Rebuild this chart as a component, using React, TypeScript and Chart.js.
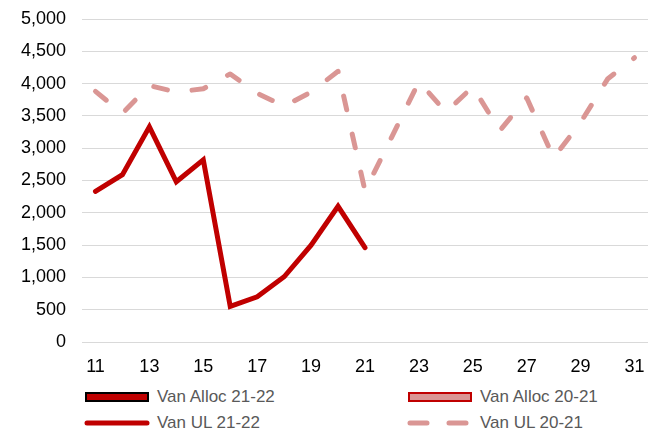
import React, { useEffect, useRef } from "react";
import { Chart, registerables } from "chart.js";

Chart.register(...registerables);

const categories = ["11", "12", "13", "14", "15", "16", "17", "18", "19", "20", "21", "22", "23", "24", "25", "26", "27", "28", "29", "30", "31"];
const vanAlloc2122: (number | null)[] = [];
const vanAlloc2021: (number | null)[] = [];
const vanUL2122: (number | null)[] = [2330, 2590, 3330, 2480, 2820, 550, 700, 1010, 1500, 2100, 1460, null, null, null, null, null, null, null, null, null, null];
const vanUL2021: (number | null)[] = [3880, 3540, 3970, 3870, 3920, 4150, 3850, 3650, 3870, 4190, 2340, 3180, 4030, 3560, 3950, 3270, 3780, 2850, 3400, 4070, 4400];
const yMin = 0;
const yMax = 5000;
const yStep = 500;

const DARK = "#C00000";
const ROSE = "#DA9694";
const FONT = "'Liberation Sans', Arial, sans-serif";

type LegendItem = { label: string; kind: "box" | "line" | "dash"; fill: string; border: string };
const legendItems: LegendItem[] = [
  { label: "Van Alloc 21-22", kind: "box", fill: DARK, border: "#000000" },
  { label: "Van Alloc 20-21", kind: "box", fill: ROSE, border: DARK },
  { label: "Van UL 21-22", kind: "line", fill: DARK, border: DARK },
  { label: "Van UL 20-21", kind: "dash", fill: ROSE, border: ROSE },
];

export default function App() {
  const canvasRef = useRef<HTMLCanvasElement | null>(null);

  useEffect(() => {
    document.body.style.margin = "0";
    const canvas = canvasRef.current;
    if (!canvas) return;
    const chart = new Chart(canvas, {
      type: "bar",
      data: {
        labels: categories,
        datasets: [
          { type: "bar", label: "Van Alloc 21-22", data: vanAlloc2122, backgroundColor: DARK, borderColor: "#000", borderWidth: 2 },
          { type: "bar", label: "Van Alloc 20-21", data: vanAlloc2021, backgroundColor: ROSE, borderColor: DARK, borderWidth: 2 },
          {
            type: "line",
            label: "Van UL 21-22",
            data: vanUL2122,
            borderColor: DARK,
            backgroundColor: DARK,
            borderWidth: 5,
            pointRadius: 0,
            borderCapStyle: "round",
            borderJoinStyle: "miter",
            tension: 0,
            spanGaps: false,
            order: 0,
          },
          {
            type: "line",
            label: "Van UL 20-21",
            data: vanUL2021,
            borderColor: ROSE,
            backgroundColor: ROSE,
            borderWidth: 5,
            borderDash: [14, 25],
            pointRadius: 0,
            borderCapStyle: "round",
            borderJoinStyle: "round",
            tension: 0,
            order: 1,
          },
        ],
      },
      options: {
        animation: false,
        responsive: false,
        maintainAspectRatio: false,
        layout: { padding: { top: 19, right: 9, left: 0, bottom: 0 } },
        plugins: { legend: { display: false }, tooltip: { enabled: false } },
        scales: {
          x: {
            offset: true,
            grid: { display: false, drawTicks: false },
            border: { display: false },
            ticks: {
              autoSkip: false,
              maxRotation: 0,
              padding: 14,
              color: "#000",
              font: { family: FONT, size: 18 },
              callback: (_v: any, i: number) => (i % 2 === 0 ? categories[i] : ""),
            },
            afterFit: (s: any) => {
              s.height = 38;
              s.paddingLeft = 0;
              s.paddingRight = 0;
            },
          },
          y: {
            min: yMin,
            max: yMax,
            ticks: {
              stepSize: yStep,
              padding: 16,
              color: "#000",
              font: { family: FONT, size: 18 },
              callback: (v: any) => Number(v).toLocaleString("en-US"),
            },
            grid: { color: "#D9D9D9", lineWidth: 1, drawTicks: false },
            border: { display: false },
            afterFit: (s: any) => {
              s.width = 82;
              s.paddingTop = 0;
              s.paddingBottom = 0;
            },
          },
        },
      },
    });
    return () => chart.destroy();
  }, []);

  const colLeft = [85, 408];
  const rowTop = [397, 423];

  return (
    <div style={{ position: "relative", width: 657, height: 430, background: "#fff", fontFamily: FONT }}>
      <canvas ref={canvasRef} width={657} height={380} style={{ position: "absolute", left: 0, top: 0, width: 657, height: 380 }} />
      {legendItems.map((it, i) => {
        const left = colLeft[i % 2];
        const cy = rowTop[Math.floor(i / 2)];
        return (
          <div key={it.label} style={{ position: "absolute", left, top: cy - 10, height: 20, display: "flex", alignItems: "center" }}>
            {it.kind === "box" ? (
              <div style={{ width: 64, height: 10, boxSizing: "border-box", background: it.fill, border: `2px solid ${it.border}` }} />
            ) : (
              <svg width={68} height={20} style={{ marginLeft: -2 }}>
                <line
                  x1={4}
                  y1={10}
                  x2={64}
                  y2={10}
                  stroke={it.border}
                  strokeWidth={5}
                  strokeLinecap="round"
                  strokeDasharray={it.kind === "dash" ? "17 22" : undefined}
                />
              </svg>
            )}
            <span style={{ marginLeft: it.kind === "box" ? 8 : 6, fontSize: 17, color: "#595959", lineHeight: "20px", whiteSpace: "nowrap" }}>{it.label}</span>
          </div>
        );
      })}
    </div>
  );
}
